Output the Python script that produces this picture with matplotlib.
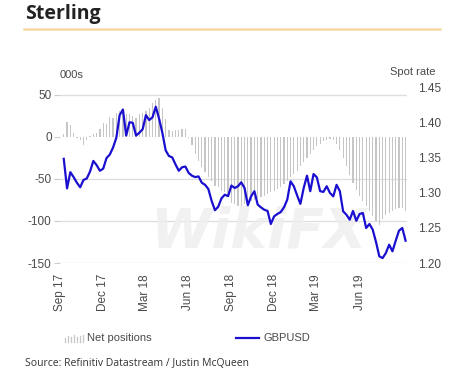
import matplotlib
matplotlib.use("Agg")
import matplotlib.pyplot as plt
from matplotlib.lines import Line2D
import pandas as pd

# ---------------- data ----------------
start_date = "2017-09-09"
net_positions = [
    3, 18, 14, 5, -1, -3, -9, -3, 1, 3,
    5, 10, 17, 15, 24, 23, 29, 31, 30, 27,
    27, 25, 23, 27, 29, 31, 35, 40, 44, 47,
    35, 21, 8, 7, 8, 8, 9, 10, -1, -10,
    -20, -28, -36, -42, -48, -52, -58, -60, -64, -66,
    -72, -78, -80, -82, -82, -80, -78, -76, -75, -73,
    -72, -70, -68, -66, -64, -62, -60, -56, -52, -48,
    -44, -40, -35, -30, -25, -20, -15, -11, -8, -5,
    -3, -2, -4, -8, -15, -25, -35, -45, -55, -63,
    -70, -76, -82, -88, -94, -100, -105, -98, -93, -90,
    -88, -86, -85, -85, -88,
]
gbpusd = [
    1.348, 1.306, 1.329, 1.322, 1.314, 1.3075, 1.318, 1.320, 1.330, 1.345,
    1.339, 1.331, 1.334, 1.349, 1.354, 1.364, 1.378, 1.410, 1.418, 1.381,
    1.400, 1.399, 1.381, 1.385, 1.390, 1.410, 1.403, 1.407, 1.422, 1.405,
    1.385, 1.360, 1.352, 1.350, 1.340, 1.331, 1.336, 1.337, 1.328, 1.324,
    1.322, 1.323, 1.314, 1.311, 1.305, 1.288, 1.275, 1.280, 1.292, 1.297,
    1.295, 1.310, 1.3065, 1.309, 1.3146, 1.3065, 1.282, 1.2947, 1.302, 1.283,
    1.279, 1.2757, 1.274, 1.2554, 1.2663, 1.2696, 1.2724, 1.279, 1.290, 1.316,
    1.309, 1.296, 1.284, 1.3065, 1.324, 1.302, 1.3264, 1.3217, 1.302, 1.301,
    1.309, 1.2994, 1.2947, 1.311, 1.302, 1.2734, 1.2686, 1.2615, 1.274, 1.260,
    1.2696, 1.271, 1.2497, 1.2554, 1.2473, 1.2298, 1.2095, 1.207, 1.2142, 1.226,
    1.2166, 1.2317, 1.246, 1.2497, 1.2317,
]
tick_labels = ["Sep 17", "Dec 17", "Mar 18", "Jun 18", "Sep 18", "Dec 18", "Mar 19", "Jun 19"]
tick_dates = ["2017-09-01", "2017-12-01", "2018-03-01", "2018-06-01",
              "2018-09-01", "2018-12-01", "2019-03-01", "2019-06-01"]
left_ticks = [50, 0, -50, -100, -150]
right_ticks = [1.20, 1.25, 1.30, 1.35, 1.40, 1.45]

dates = pd.date_range(start_date, periods=len(gbpusd), freq="7D")

# ---------------- figure ----------------
W, H = 451, 376
fig = plt.figure(figsize=(W / 100, H / 100), dpi=100)

def fx(x):
    return x / W

def fy(y):
    return 1 - y / H

ax_left, ax_right, ax_top, ax_bot = 60, 407, 87, 263
ax = fig.add_axes([fx(ax_left), fy(ax_bot), (ax_right - ax_left) / W, (ax_bot - ax_top) / H])
ax2 = ax.twinx()

TXT = "#4a4a4a"
ARIAL = "Liberation Sans"

ax.bar(dates, net_positions, width=2.6, color="#c6c6c6", zorder=2)
ax2.plot(dates, gbpusd, color="#1a0fd0", lw=1.6, zorder=3)

ax.set_ylim(-150, 59.5)
ax2.set_ylim(1.20, 1.45)
ax.set_xlim(pd.Timestamp("2017-09-06"), pd.Timestamp("2019-09-10"))

ax.set_yticks(left_ticks)
ax.set_yticklabels([str(v) for v in left_ticks], fontsize=8.5, color=TXT, family=ARIAL)
ax2.set_yticks(right_ticks)
ax2.set_yticklabels([f"{v:.2f}" for v in right_ticks], fontsize=8.5, color=TXT, family=ARIAL)

ax.set_xticks(pd.to_datetime(tick_dates))
ax.set_xticklabels(tick_labels, rotation=90, fontsize=8.5, color=TXT, family=ARIAL)
ax.tick_params(axis="x", length=0, pad=8)
ax.tick_params(axis="y", length=4, color="#cccccc", pad=2)
ax2.tick_params(axis="y", length=0, pad=8)

for y in [50, -50, -100, -150]:
    ax.axhline(y, color="#dedede", lw=0.9, zorder=1)

for a in (ax, ax2):
    for s in a.spines.values():
        s.set_visible(False)

# faint watermark as in the source image (above bars, below the price line)
ax.text(fx(258), fy(232), "WikiFX", transform=fig.transFigure, fontsize=40,
        fontweight="bold", fontstyle="italic", family="DejaVu Sans",
        color="#eeeeee", alpha=0.8, ha="center", va="center", zorder=4, clip_on=False)

# ---------------- header / labels ----------------
fig.text(fx(25), fy(14), "Sterling", fontsize=14, fontweight="bold", family="Open Sans",
         color="#222222", va="center", ha="left")
fig.add_artist(Line2D([fx(24), fx(440)], [fy(29), fy(29)], color="#f6d9a6", lw=1.8))

fig.text(fx(60), fy(75), "000s", fontsize=8, color=TXT, family=ARIAL, va="center", ha="left")
fig.text(fx(436), fy(72), "Spot rate", fontsize=8, color=TXT, family=ARIAL, va="center", ha="right")

# legend (manual)
hts = [4, 6, 5, 7, 5, 6, 7]
for k, h in enumerate(hts):
    x = 65 + k * 3
    fig.add_artist(Line2D([fx(x), fx(x)], [fy(342), fy(342 - h)], color="#c6c6c6", lw=0.9))
fig.text(fx(87), fy(338), "Net positions", fontsize=8, color=TXT, family=ARIAL, va="center", ha="left")
fig.add_artist(Line2D([fx(236), fx(259)], [fy(338), fy(338)], color="#1a0fd0", lw=1.6))
fig.text(fx(263), fy(338), "GBPUSD", fontsize=8, color=TXT, family=ARIAL, va="center", ha="left")

fig.text(fx(25), fy(364), "Source: Refinitiv Datastream / Justin McQueen", fontsize=7.5,
         family="Open Sans", color="#333333", va="center", ha="left")

fig.savefig("out.png", dpi=100, facecolor="white")
